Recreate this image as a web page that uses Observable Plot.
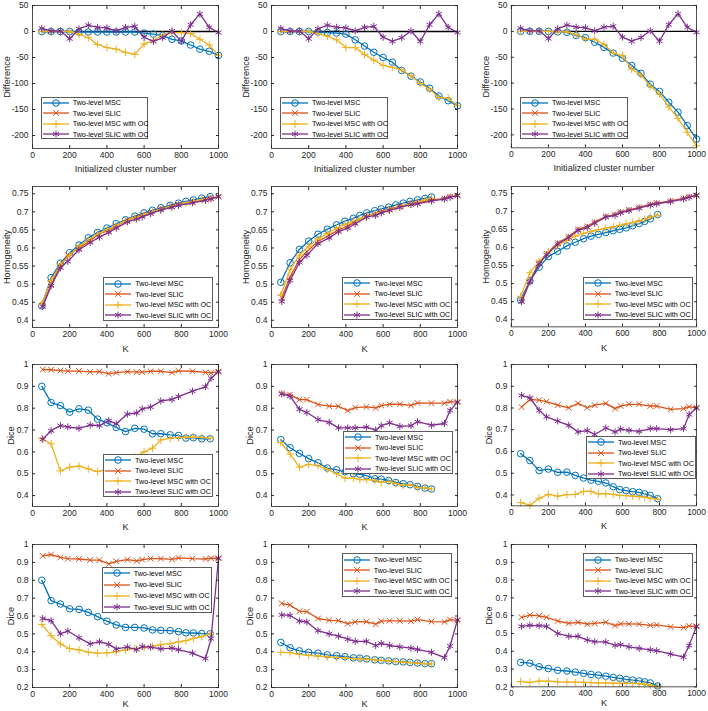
<!DOCTYPE html>
<html><head><meta charset="utf-8">
<script src="https://cdn.jsdelivr.net/npm/d3@7"></script>
<script src="https://cdn.jsdelivr.net/npm/@observablehq/plot@0.6"></script>
<style>
body{margin:0;background:#fff;}
#fig{position:relative;width:708px;height:711px;font-family:"Liberation Sans",Arial,sans-serif;overflow:hidden;}
.panel{position:absolute;}
.legend{position:absolute;background:#fff;border:1px solid #5a5a5a;box-sizing:border-box;font-size:7.2px;color:#000;}
.legend .row{position:absolute;left:0;height:10px;display:flex;align-items:center;white-space:nowrap;}
.legend svg{display:block;}
</style></head><body><div id="fig"></div>
<script>
// ---------- data ----------
const NAMES = ["Two-level MSC","Two-level SLIC","Two-level MSC with OC","Two-level SLIC with OC"];

const K_DIFF = [50,100,150,200,250,300,350,400,450,500,550,600,650,700,750,800,850,900,950,1000];
const K_SLIC = [55,100,150,190,250,310,360,410,450,510,560,590,635,690,750,785,860,930,960,1000];
const K_MSC_C1 = [50,100,150,200,250,300,350,400,450,500,550,600,645,690,740,785,825,865,910,955];
const K_MSC_C2 = [50,100,150,200,250,300,350,395,440,475,512,555,590,630,668,708,745,785,825,860];
const K_MSC_C3 = [50,100,150,200,250,300,345,390,430,470,510,550,585,620,655,690,720,750,790];

// Difference panels
const diff1Msc   = [0,0,0,0,-1,-1,-1,-1,-1,-1,-1,-3,-5,-8,-15,-18,-26,-34,-38,-46];
const diff1MscOc = [0,0,0,0,-5,-12,-25,-31,-34,-40,-44,-24,-17,-7,-2,-2,-4,-15,-26,-46];
const diffSlicOc = [6,1,1,-14,5,12,8,7,1,8,10,-11,-19,-12,1,-19,13,34,8,-2];
const diff2Msc   = [0,0,0,0,-1,-2,-3,-5,-16,-28,-40,-50,-59,-75,-86,-97,-109,-124,-133,-143];
const diff2MscOc = [0,0,0,0,-4,-9,-16,-31,-31,-44,-55,-65,-69,-74,-85,-100,-111,-127,-128,-143];
const diff3Msc   = [0,0,0,0,-1,-2,-8,-12,-21,-31,-42,-52,-66,-81,-102,-116,-137,-156,-182,-208];
const diff3MscOc = [0,0,0,0,-1,-1,-6,-15,-15,-25,-42,-47,-73,-84,-106,-121,-146,-168,-195,-221];

// Homogeneity panels
const hom1Msc    = [0.44,0.518,0.558,0.587,0.608,0.628,0.643,0.655,0.667,0.678,0.688,0.697,0.704,0.711,0.718,0.724,0.729,0.733,0.738,0.742];
const hom1Slic   = [0.44,0.50,0.55,0.58,0.60,0.62,0.64,0.648,0.66,0.677,0.685,0.69,0.698,0.708,0.715,0.72,0.727,0.734,0.737,0.742];
const hom1MscOc  = [0.445,0.51,0.555,0.58,0.605,0.622,0.638,0.65,0.662,0.675,0.684,0.693,0.70,0.707,0.714,0.72,0.725,0.729,0.734,0.738];
const hom1SlicOc = [0.438,0.495,0.545,0.563,0.595,0.615,0.630,0.643,0.655,0.672,0.680,0.686,0.695,0.705,0.713,0.718,0.725,0.732,0.736,0.742];
const hom2Msc    = [0.505,0.559,0.596,0.619,0.638,0.652,0.664,0.674,0.682,0.69,0.697,0.703,0.708,0.713,0.719,0.724,0.729,0.733,0.737,0.741];
const hom2Slic   = [0.462,0.52,0.568,0.59,0.618,0.635,0.65,0.66,0.672,0.688,0.694,0.70,0.707,0.715,0.722,0.725,0.732,0.737,0.742,0.745];
const hom2MscOc  = [0.47,0.54,0.58,0.605,0.625,0.64,0.655,0.665,0.673,0.68,0.687,0.694,0.699,0.705,0.71,0.716,0.721,0.727,0.733,0.738];
const hom2SlicOc = [0.452,0.51,0.56,0.58,0.612,0.628,0.645,0.655,0.667,0.685,0.69,0.697,0.704,0.712,0.72,0.722,0.73,0.735,0.74,0.745];
const hom3Msc    = [0.455,0.508,0.546,0.575,0.59,0.605,0.615,0.625,0.632,0.637,0.642,0.647,0.651,0.655,0.661,0.667,0.673,0.68,0.692];
const hom3Slic   = [0.452,0.508,0.558,0.583,0.613,0.631,0.651,0.659,0.671,0.687,0.692,0.699,0.705,0.712,0.72,0.724,0.73,0.737,0.742,0.745];
const hom3MscOc  = [0.465,0.53,0.562,0.588,0.605,0.62,0.632,0.64,0.645,0.65,0.654,0.658,0.662,0.666,0.67,0.674,0.679,0.685,0.69];
const hom3SlicOc = [0.45,0.505,0.555,0.58,0.61,0.628,0.648,0.656,0.668,0.685,0.69,0.697,0.703,0.71,0.718,0.722,0.728,0.735,0.74,0.745];

// Dice panels (third row)
const diceA1Msc    = [0.90,0.826,0.812,0.782,0.797,0.791,0.75,0.733,0.712,0.693,0.708,0.704,0.683,0.683,0.678,0.675,0.663,0.665,0.66,0.66];
const diceA1Slic   = [0.977,0.976,0.972,0.97,0.97,0.966,0.967,0.958,0.963,0.967,0.965,0.965,0.969,0.969,0.963,0.971,0.969,0.964,0.962,0.967];
const diceA1MscOc  = [0.66,0.637,0.513,0.53,0.535,0.522,0.51,0.522,0.535,0.555,0.575,0.60,0.617,0.655,0.662,0.665,0.667,0.668,0.666,0.663];
const diceA1SlicOc = [0.658,0.697,0.72,0.714,0.708,0.723,0.72,0.743,0.728,0.773,0.778,0.797,0.805,0.833,0.84,0.853,0.878,0.898,0.937,0.967];
const diceA2Msc    = [0.656,0.619,0.593,0.569,0.55,0.526,0.518,0.509,0.5,0.497,0.491,0.477,0.475,0.469,0.46,0.454,0.45,0.442,0.434,0.43];
const diceA2Slic   = [0.867,0.862,0.839,0.839,0.817,0.809,0.809,0.789,0.803,0.806,0.801,0.812,0.818,0.818,0.813,0.824,0.823,0.823,0.83,0.828];
const diceA2MscOc  = [0.643,0.59,0.53,0.543,0.537,0.52,0.50,0.48,0.48,0.473,0.473,0.47,0.46,0.465,0.455,0.447,0.449,0.437,0.435,0.43];
const diceA2SlicOc = [0.865,0.855,0.795,0.78,0.748,0.735,0.71,0.71,0.71,0.713,0.70,0.72,0.733,0.717,0.72,0.738,0.722,0.73,0.79,0.828];
const diceA3Msc    = [0.59,0.558,0.512,0.519,0.504,0.505,0.49,0.478,0.468,0.463,0.455,0.438,0.425,0.42,0.415,0.412,0.405,0.398,0.383];
const diceA3Slic   = [0.804,0.839,0.836,0.829,0.813,0.801,0.821,0.801,0.813,0.821,0.797,0.809,0.817,0.817,0.809,0.809,0.794,0.797,0.806,0.801];
const diceA3MscOc  = [0.365,0.353,0.385,0.403,0.395,0.402,0.403,0.417,0.417,0.405,0.405,0.403,0.398,0.397,0.395,0.392,0.39,0.385,0.38];
const diceA3SlicOc = [0.858,0.847,0.789,0.759,0.74,0.72,0.69,0.696,0.678,0.708,0.69,0.703,0.697,0.692,0.705,0.705,0.70,0.705,0.77,0.80];

// Dice panels (fourth row)
const diceB1Msc    = [0.80,0.686,0.667,0.64,0.637,0.62,0.596,0.571,0.55,0.536,0.536,0.533,0.522,0.52,0.518,0.513,0.506,0.505,0.502,0.501];
const diceB1Slic   = [0.936,0.944,0.928,0.921,0.919,0.913,0.913,0.891,0.906,0.915,0.908,0.915,0.921,0.921,0.917,0.925,0.921,0.919,0.923,0.923];
const diceB1MscOc  = [0.553,0.49,0.443,0.418,0.41,0.398,0.392,0.394,0.40,0.41,0.418,0.424,0.43,0.44,0.446,0.455,0.462,0.475,0.485,0.50];
const diceB1SlicOc = [0.586,0.574,0.50,0.516,0.478,0.444,0.456,0.441,0.416,0.426,0.412,0.429,0.426,0.416,0.42,0.412,0.392,0.362,0.473,0.923];
const diceB2Msc    = [0.452,0.422,0.405,0.396,0.392,0.383,0.378,0.372,0.366,0.364,0.36,0.355,0.352,0.349,0.345,0.343,0.34,0.337,0.334,0.333];
const diceB2Slic   = [0.67,0.661,0.627,0.625,0.586,0.576,0.574,0.557,0.567,0.569,0.554,0.571,0.573,0.573,0.571,0.58,0.569,0.567,0.58,0.576];
const diceB2MscOc  = [0.397,0.395,0.385,0.38,0.376,0.372,0.368,0.366,0.362,0.36,0.358,0.354,0.351,0.348,0.345,0.342,0.339,0.336,0.333,0.332];
const diceB2SlicOc = [0.606,0.603,0.572,0.567,0.518,0.50,0.487,0.47,0.458,0.458,0.435,0.447,0.435,0.427,0.42,0.413,0.397,0.367,0.432,0.578];
const diceB3Msc    = [0.337,0.333,0.313,0.303,0.293,0.289,0.283,0.276,0.27,0.266,0.26,0.253,0.248,0.242,0.238,0.233,0.228,0.222,0.205];
const diceB3Slic   = [0.591,0.603,0.599,0.591,0.57,0.557,0.563,0.552,0.557,0.563,0.544,0.554,0.554,0.552,0.546,0.548,0.537,0.533,0.542,0.54];
const diceB3MscOc  = [0.23,0.225,0.232,0.232,0.228,0.227,0.226,0.225,0.224,0.222,0.222,0.221,0.22,0.22,0.219,0.218,0.216,0.21,0.2];
const diceB3SlicOc = [0.54,0.546,0.544,0.54,0.50,0.484,0.484,0.463,0.454,0.452,0.433,0.437,0.425,0.416,0.408,0.403,0.384,0.367,0.433,0.54];

const X_TICKS = [0,200,400,600,800,1000];
const Y_TICKS_DIFF = [-200,-150,-100,-50,0,50];
const Y_TICKS_HOM = [0.4,0.45,0.5,0.55,0.6,0.65,0.7,0.75];
const Y_TICKS_DICE_A = [0.4,0.5,0.6,0.7,0.8,0.9,1];
const Y_TICKS_DICE_B = [0.2,0.3,0.4,0.5,0.6,0.7,0.8,0.9,1];

// ---------- styles / layout ----------
const COLORS = ["#0072BD","#D95319","#EDB120","#7E2F8E"];
const SYMBOLS = ["circle","times","plus","asterisk"];
const RADII = [3.3, 2.7, 2.6, 3.3];
const COL_LEFT = [32, 271, 511];
const FRAME_W = 186;
const ROWS = [
  {top:5,   h:143, mb:30, domain:[-225,50], ticks:Y_TICKS_DIFF,   ylabel:"Difference", xlabel:"Initialized cluster number", ylo:29, xlo:23},
  {top:186, h:141, mb:30, domain:[0.38,0.77], ticks:Y_TICKS_HOM,  ylabel:"Homogeneity", xlabel:"K", ylo:29, xlo:24},
  {top:364, h:142, mb:30, domain:[0.35,1],  ticks:Y_TICKS_DICE_A, ylabel:"Dice", xlabel:"K", ylo:25.5, xlo:23},
  {top:544, h:143, mb:24, domain:[0.2,1],   ticks:Y_TICKS_DICE_B, ylabel:"Dice", xlabel:"K", ylo:25.5, xlo:19}
];
const MT = 5, ML = 32, MR = 12;

const panels = [
  {row:0,col:0, zero:true, series:[[K_DIFF,diff1Msc],null,[K_DIFF,diff1MscOc],[K_DIFF,diffSlicOc]], legend:[40.7,96.7,107.6,42.6]},
  {row:0,col:1, zero:true, series:[[K_DIFF,diff2Msc],null,[K_DIFF,diff2MscOc],[K_DIFF,diffSlicOc]], legend:[280,96.7,107.6,42.6]},
  {row:0,col:2, zero:true, series:[[K_DIFF,diff3Msc],null,[K_DIFF,diff3MscOc],[K_DIFF,diffSlicOc]], legend:[520,96.7,107.6,42.6]},
  {row:1,col:0, series:[[K_MSC_C1,hom1Msc],[K_SLIC,hom1Slic],[K_MSC_C1,hom1MscOc],[K_SLIC,hom1SlicOc]], legend:[103.3,277.3,110,43.5]},
  {row:1,col:1, series:[[K_MSC_C2,hom2Msc],[K_SLIC,hom2Slic],[K_MSC_C2,hom2MscOc],[K_SLIC,hom2SlicOc]], legend:[342.3,276.7,110,43.5]},
  {row:1,col:2, series:[[K_MSC_C3,hom3Msc],[K_SLIC,hom3Slic],[K_MSC_C3,hom3MscOc],[K_SLIC,hom3SlicOc]], legend:[582.7,276.7,110,43.5]},
  {row:2,col:0, series:[[K_MSC_C1,diceA1Msc],[K_SLIC,diceA1Slic],[K_MSC_C1,diceA1MscOc],[K_SLIC,diceA1SlicOc]], legend:[103,454,110,43]},
  {row:2,col:1, series:[[K_MSC_C2,diceA2Msc],[K_SLIC,diceA2Slic],[K_MSC_C2,diceA2MscOc],[K_SLIC,diceA2SlicOc]], legend:[343,431,110,43]},
  {row:2,col:2, series:[[K_MSC_C3,diceA3Msc],[K_SLIC,diceA3Slic],[K_MSC_C3,diceA3MscOc],[K_SLIC,diceA3SlicOc]], legend:[586,436,110,43]},
  {row:3,col:0, series:[[K_MSC_C1,diceB1Msc],[K_SLIC,diceB1Slic],[K_MSC_C1,diceB1MscOc],[K_SLIC,diceB1SlicOc]], legend:[101.7,566.7,110.6,46]},
  {row:3,col:1, series:[[K_MSC_C2,diceB2Msc],[K_SLIC,diceB2Slic],[K_MSC_C2,diceB2MscOc],[K_SLIC,diceB2SlicOc]], legend:[341.7,553.3,110.6,43.5]},
  {row:3,col:2, series:[[K_MSC_C3,diceB3Msc],[K_SLIC,diceB3Slic],[K_MSC_C3,diceB3MscOc],[K_SLIC,diceB3SlicOc]], legend:[582.7,553.3,110,43.5]}
];

const fig = document.getElementById("fig");
const fmt = d => String(+(+d).toFixed(2));

for (const p of panels) {
  const R = ROWS[p.row];
  const marks = [];
  if (p.zero) {
    const zeroData = K_DIFF.map(k => ({k, v: 0}));
    marks.push(Plot.line(zeroData, {x:"k", y:"v", stroke:"#000", strokeWidth:1.3}));
  }
  p.series.forEach((s, i) => {
    if (!s) return;
    const data = s[0].map((k, j) => ({k, v: s[1][j]}));
    marks.push(Plot.line(data, {x:"k", y:"v", stroke:COLORS[i], strokeWidth:1.3}));
    marks.push(Plot.dot(data, {x:"k", y:"v", stroke:COLORS[i], symbol:SYMBOLS[i], r:RADII[i], strokeWidth:1, fill:"none"}));
  });
  const chart = Plot.plot({
    width: ML + FRAME_W + MR,
    height: MT + R.h + R.mb,
    marginLeft: ML, marginRight: MR, marginTop: MT, marginBottom: R.mb,
    style: {background:"transparent", fontFamily:"'Liberation Sans', Arial, sans-serif", fontSize:"8.5px", color:"#262626"},
    x: {domain:[0,1000]},
    y: {domain:R.domain},
    marks: [
      ...marks,
      Plot.frame({stroke:"#262626", strokeWidth:0.8}),
      Plot.axisX({ticks:X_TICKS, tickSize:-3, tickPadding:6, tickFormat:fmt, label:null, fontSize:8.5}),
      Plot.axisX({ticks:[], tickSize:0, label:R.xlabel, labelAnchor:"center", labelArrow:"none", labelOffset:R.xlo, fontSize:9.2}),
      Plot.axisX({anchor:"top", ticks:X_TICKS, tickSize:-3, tickFormat:() => "", label:null}),
      Plot.axisY({ticks:R.ticks, tickSize:-3, tickPadding:7, tickFormat:fmt, label:null, fontSize:8.5}),
      Plot.axisY({ticks:[], tickSize:0, label:R.ylabel, labelAnchor:"center", labelArrow:"none", labelOffset:R.ylo, fontSize:9.2}),
      Plot.axisY({anchor:"right", ticks:R.ticks, tickSize:-3, tickFormat:() => "", label:null})
    ]
  });
  const holder = document.createElement("div");
  holder.className = "panel";
  holder.style.left = (COL_LEFT[p.col] - ML) + "px";
  holder.style.top = (R.top - MT) + "px";
  holder.appendChild(chart);
  fig.appendChild(holder);

  // legend
  const [lx, ly, lw, lh] = p.legend;
  const lg = document.createElement("div");
  lg.className = "legend";
  lg.style.left = lx + "px"; lg.style.top = ly + "px";
  lg.style.width = lw + "px"; lg.style.height = lh + "px";
  const step = (lh - 1) / 4;
  NAMES.forEach((name, i) => {
    const row = document.createElement("div");
    row.className = "row";
    row.style.top = (step * i + step / 2 - 5) + "px";
    const svg = d3.create("svg").attr("width", 30).attr("height", 10);
    svg.append("line").attr("x1", 1).attr("x2", 27).attr("y1", 5).attr("y2", 5)
      .attr("stroke", COLORS[i]).attr("stroke-width", 1.3);
    const symType = {circle:d3.symbolCircle, times:d3.symbolTimes, plus:d3.symbolPlus, asterisk:d3.symbolAsterisk}[SYMBOLS[i]];
    svg.append("path").attr("transform", "translate(14,5)")
      .attr("d", d3.symbol(symType, Math.PI * RADII[i] * RADII[i])())
      .attr("fill", "none").attr("stroke", COLORS[i]).attr("stroke-width", 1);
    row.appendChild(svg.node());
    const sp = document.createElement("span");
    sp.textContent = name;
    sp.style.marginLeft = "1px";
    row.appendChild(sp);
    lg.appendChild(row);
  });
  fig.appendChild(lg);
}
</script>
</body></html>
